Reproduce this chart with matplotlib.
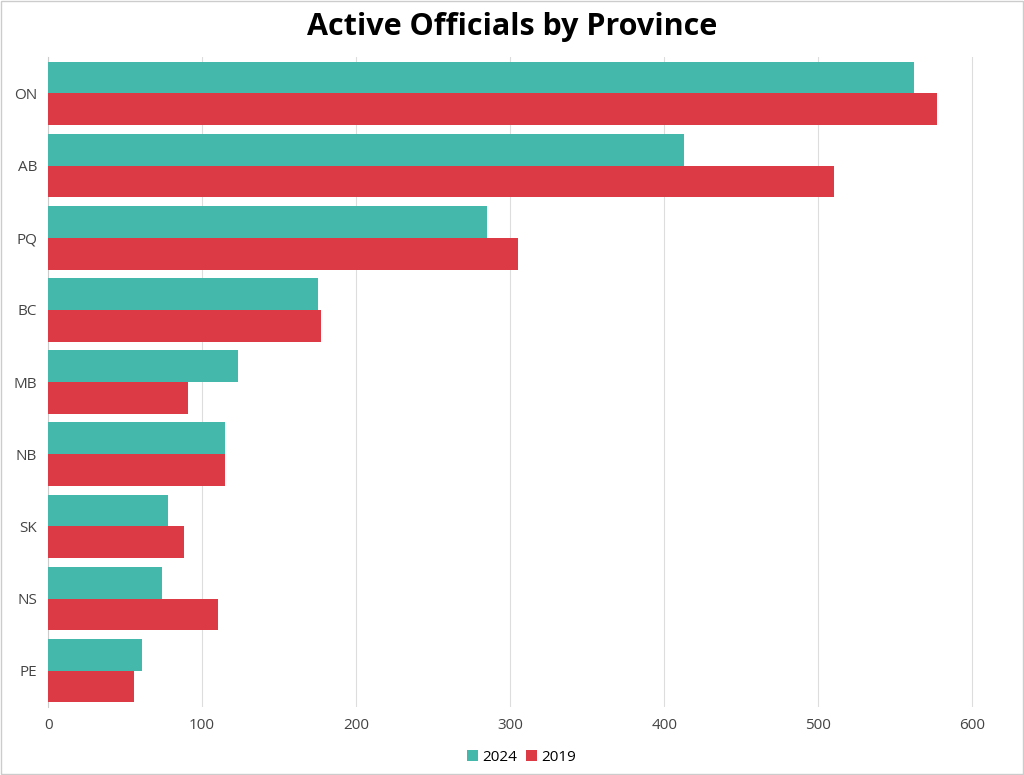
import matplotlib
matplotlib.use("Agg")
import matplotlib.pyplot as plt
import numpy as np

provinces = ["ON", "AB", "PQ", "BC", "MB", "NB", "SK", "NS", "PE"]
v2024 = [562, 413, 285, 175, 123, 115, 78, 74, 61]
v2019 = [577, 510, 305, 177, 91, 115, 88, 110, 56]
xticks = [0, 100, 200, 300, 400, 500, 600]

fig = plt.figure(figsize=(10.24, 7.75), dpi=100)
fig.patch.set_facecolor("white")
ax = fig.add_axes([0.047, 0.088, 0.925, 0.838])
y = np.arange(len(provinces))
h = 0.44
ax.barh(y - h/2, v2024, height=h, color="#45B8AC", label="2024", zorder=3)
ax.barh(y + h/2, v2019, height=h, color="#DC3A44", label="2019", zorder=3)
ax.set_ylim(len(provinces) - 0.5, -0.5)
ax.set_xlim(0, 615)
ax.set_yticks(y)
ax.set_yticklabels(provinces, fontsize=11, color="#444444", family="Open Sans")
ax.set_xticks(xticks)
ax.set_xticklabels([str(t) for t in xticks], fontsize=11, color="#444444", family="Open Sans")
ax.grid(axis="x", color="#dddddd", linewidth=0.8, zorder=0)
for s in ["top", "right", "bottom"]:
    ax.spines[s].set_visible(False)
ax.spines["left"].set_color("#cccccc")
ax.tick_params(length=0, pad=8)
fig.suptitle("Active Officials by Province", fontsize=22, fontweight="bold", y=0.985, family="Open Sans")
ax.legend(loc="upper center", bbox_to_anchor=(0.5, -0.045), ncol=2, frameon=False,
          handlelength=0.7, handleheight=0.7, columnspacing=0.6, handletextpad=0.3,
          prop={"family": "Open Sans", "size": 11})
fig.add_artist(plt.Rectangle((0.001, 0.001), 0.998, 0.998, transform=fig.transFigure,
                             fill=False, edgecolor="#cccccc", linewidth=1))
fig.savefig("out.png", dpi=100)
